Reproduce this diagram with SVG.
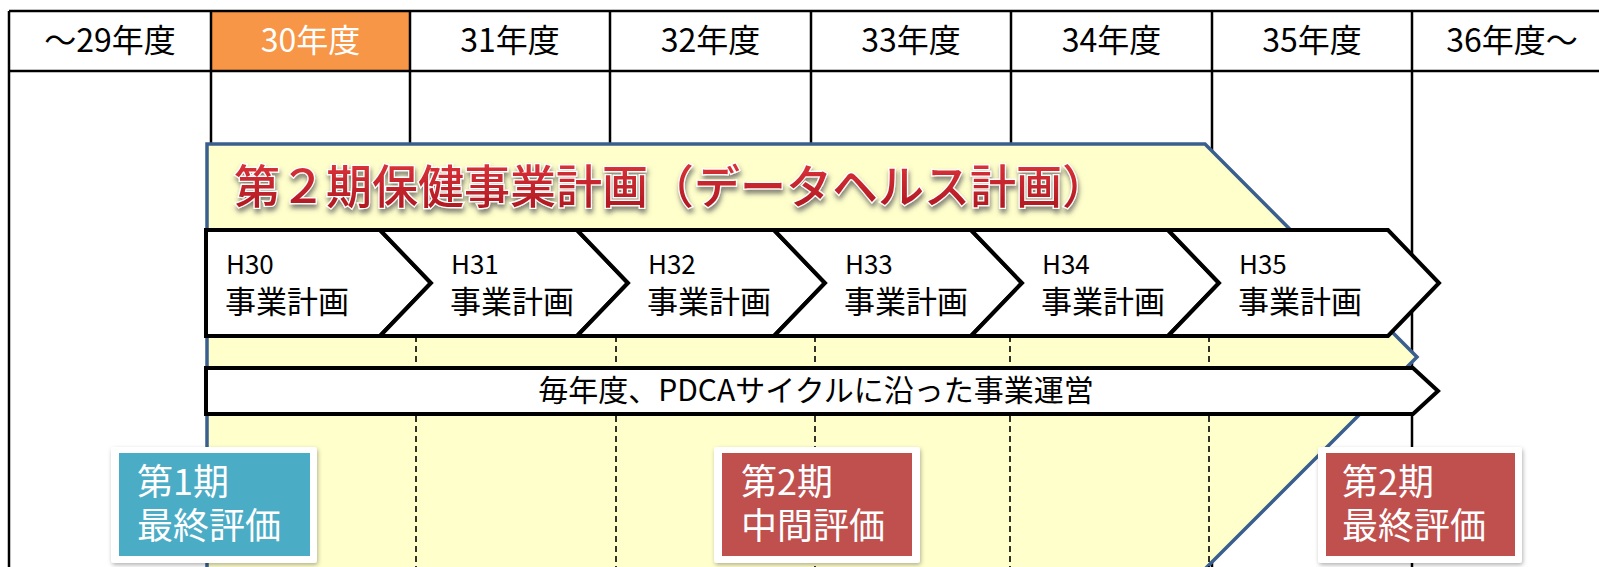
<svg xmlns="http://www.w3.org/2000/svg" width="1599" height="567" viewBox="0 0 1599 567">
<style>
.t{font-family:"Noto Sans CJK JP","Noto Sans",sans-serif}
.hd{font-size:32px;fill:#000;text-anchor:middle}
.grid{stroke:#000;stroke-width:2.5;fill:none}
.chev{fill:#fff;stroke:#000;stroke-width:4;stroke-linejoin:miter}
.ct{font-size:31px;fill:#000}
.dash{stroke:#000;stroke-width:1.6;stroke-dasharray:6 4;fill:none}
.ev{font-size:36px;fill:#fff}
.frame{fill:#fff}
</style>
<defs>
<linearGradient id="tg" x1="0" y1="0" x2="0" y2="1">
<stop offset="0" stop-color="#E63A40"/>
<stop offset="1" stop-color="#A8141D"/>
</linearGradient>
<filter id="tsh" x="-5%" y="-30%" width="110%" height="170%">
<feGaussianBlur in="SourceAlpha" stdDeviation="2.5"/>
<feOffset dx="1" dy="4" result="b"/>
<feFlood flood-color="#555" flood-opacity="0.75"/>
<feComposite in2="b" operator="in" result="s"/>
<feMerge><feMergeNode in="s"/><feMergeNode in="SourceGraphic"/></feMerge>
</filter>
<filter id="bsh" x="-10%" y="-10%" width="125%" height="125%">
<feGaussianBlur in="SourceAlpha" stdDeviation="2"/>
<feOffset dx="1" dy="2" result="b"/>
<feFlood flood-color="#000" flood-opacity="0.3"/>
<feComposite in2="b" operator="in" result="s"/>
<feMerge><feMergeNode in="s"/><feMergeNode in="SourceGraphic"/></feMerge>
</filter>
</defs>
<rect width="1599" height="567" fill="#fff"/>
<g id="header">
<rect x="211" y="11" width="199" height="60" fill="#F79646"/>
<path class="grid" d="M9 11H1599M9 71H1599M9 11V567M211 11V567M410 11V567M610 11V567M811 11V567M1011 11V567M1212 11V567M1412 11V567"/>
<text class="t hd" x="110" y="52">～29年度</text>
<text class="t hd" x="310.5" y="52" style="fill:#fff">30年度</text>
<text class="t hd" x="510" y="52">31年度</text>
<text class="t hd" x="710.5" y="52">32年度</text>
<text class="t hd" x="911" y="52">33年度</text>
<text class="t hd" x="1111.5" y="52">34年度</text>
<text class="t hd" x="1312" y="52">35年度</text>
<text class="t hd" x="1512" y="52">36年度～</text>
</g>
<g id="plan-period">
<polygon points="207,144 1205,144 1417,357 1197,577 207,577" fill="#FFFFCC" stroke="#3A5F8E" stroke-width="3.5" stroke-linejoin="miter"/>
<text class="t" x="234" y="203" font-size="46" font-weight="500" fill="url(#tg)" stroke="#fff" stroke-width="2.5" paint-order="stroke" filter="url(#tsh)">第２期保健事業計画（データヘルス計画）</text>
</g>
<g id="connectors">
<path class="dash" d="M416 336V567M616 336V567M815 336V567M1010 336V567M1209 336V567"/>
</g>
<g id="h30">
<polygon class="chev" points="206,230 380,230 431,283 380,336 206,336"/>
<text class="t" x="226" y="274" font-size="26">H30</text>
<text class="t ct" x="225" y="313">事業計画</text>
</g>
<g id="h31">
<polygon class="chev" points="380,230 577,230 628,283 577,336 380,336 431,283"/>
<text class="t" x="451" y="274" font-size="26">H31</text>
<text class="t ct" x="450" y="313">事業計画</text>
</g>
<g id="h32">
<polygon class="chev" points="577,230 774,230 825,283 774,336 577,336 628,283"/>
<text class="t" x="648" y="274" font-size="26">H32</text>
<text class="t ct" x="647" y="313">事業計画</text>
</g>
<g id="h33">
<polygon class="chev" points="774,230 971,230 1022,283 971,336 774,336 825,283"/>
<text class="t" x="845" y="274" font-size="26">H33</text>
<text class="t ct" x="844" y="313">事業計画</text>
</g>
<g id="h34">
<polygon class="chev" points="971,230 1168,230 1219,283 1168,336 971,336 1022,283"/>
<text class="t" x="1042" y="274" font-size="26">H34</text>
<text class="t ct" x="1041" y="313">事業計画</text>
</g>
<g id="h35">
<polygon class="chev" points="1168,230 1388,230 1439,283 1388,336 1168,336 1219,283"/>
<text class="t" x="1239" y="274" font-size="26">H35</text>
<text class="t ct" x="1238" y="313">事業計画</text>
</g>
<g id="pdca">
<polygon class="chev" points="206,368 1413,368 1438,391 1413,414 206,414"/>
<text class="t" x="816" y="401" font-size="30" text-anchor="middle">毎年度、PDCAサイクルに沿った事業運営</text>
</g>
<g id="eval1">
<rect class="frame" x="111" y="447" width="206" height="116" rx="3" filter="url(#bsh)"/>
<rect x="119" y="453" width="191" height="103" fill="#4BACC6"/>
<text class="t ev" x="137" y="495">第1期<tspan x="137" dy="44">最終評価</tspan></text>
</g>
<g id="eval2">
<rect class="frame" x="714" y="447" width="206" height="116" rx="3" filter="url(#bsh)"/>
<rect x="722" y="453" width="190" height="103" fill="#C0504D"/>
<text class="t ev" x="741" y="495">第2期<tspan x="741" dy="44">中間評価</tspan></text>
</g>
<g id="eval3">
<rect class="frame" x="1318" y="447" width="204" height="116" rx="3" filter="url(#bsh)"/>
<rect x="1326" y="453" width="189" height="103" fill="#C0504D"/>
<text class="t ev" x="1342" y="495">第2期<tspan x="1342" dy="44">最終評価</tspan></text>
</g>
</svg>
